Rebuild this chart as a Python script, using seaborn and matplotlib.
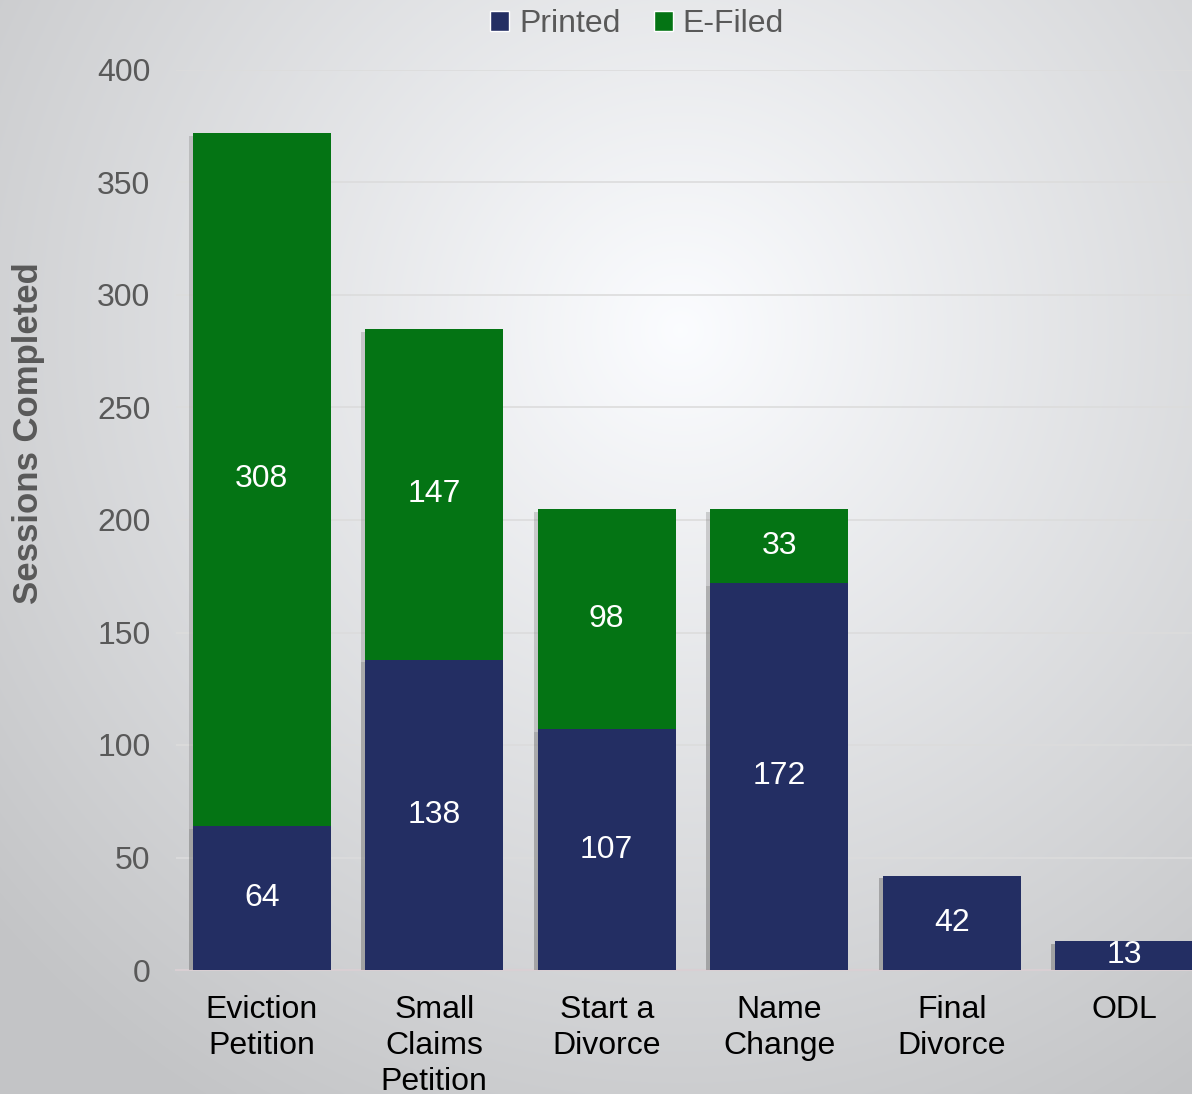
import matplotlib
matplotlib.use("Agg")
import matplotlib.pyplot as plt
import matplotlib.patheffects as pe
from matplotlib.patches import Patch
import numpy as np
import pandas as pd
import seaborn as sns

categories = ["Eviction\nPetition", "Small\nClaims\nPetition", "Start a\nDivorce",
              "Name\nChange", "Final\nDivorce", "ODL"]
printed = [64, 138, 107, 172, 42, 13]
efiled = [308, 147, 98, 33, 0, 0]

NAVY = "#232E63"
GREEN = "#047414"
GREY_TXT = "#595959"

sns.set_theme(style="white")
plt.rcParams["font.family"] = ["Liberation Sans", "DejaVu Sans"]

df = pd.DataFrame({"category": categories, "printed": printed, "efiled": efiled})
df["total"] = df["printed"] + df["efiled"]

fig = plt.figure(figsize=(11.92, 10.94), dpi=100)

# radial grey background
bg = fig.add_axes([0, 0, 1, 1], zorder=-10)
yy, xx = np.mgrid[0:1094, 0:1192]
r = np.sqrt(((xx - 680) / 900.0) ** 2 + ((yy - 330) / 900.0) ** 2)
shade = np.clip(1.0 - 0.22 * r, 0.78, 1.0)
img = np.dstack([shade * 0.985, shade * 0.99, shade * 1.0])
bg.imshow(np.clip(img, 0, 1), aspect="auto", extent=[0, 1, 0, 1])
bg.axis("off")

ax = fig.add_axes([175.5 / 1192, 124 / 1094, 1035 / 1192, 900 / 1094])
ax.patch.set_alpha(0)

shadow = [pe.SimplePatchShadow(offset=(-3, -2), shadow_rgbFace="#777777", alpha=0.3), pe.Normal()]
sns.barplot(data=df, x="category", y="total", color=GREEN, saturation=1, width=0.8,
            ax=ax, zorder=3)
sns.barplot(data=df, x="category", y="printed", color=NAVY, saturation=1, width=0.8,
            ax=ax, zorder=4)
for p in ax.patches:
    p.set_path_effects(shadow)
    p.set_linewidth(0)

for i, (p, e) in enumerate(zip(printed, efiled)):
    ax.text(i, p / 2, str(p), ha="center", va="center", color="white", fontsize=23, zorder=5)
    if e > 0:
        ax.text(i, p + e / 2, str(e), ha="center", va="center", color="white", fontsize=23, zorder=5)

ax.set_ylim(0, 400)
ax.set_xlim(-0.5, 5.5)
ax.set_yticks(range(0, 401, 50))
ax.yaxis.grid(True, color="#dcdcdc", linewidth=1.2, zorder=0)
ax.set_axisbelow(True)
for s in ["top", "right", "left"]:
    ax.spines[s].set_visible(False)
ax.spines["bottom"].set_color("#d9cfd3")
ax.spines["bottom"].set_linewidth(1.5)
ax.tick_params(axis="y", labelsize=23, labelcolor=GREY_TXT, length=0, pad=18)
ax.tick_params(axis="x", labelsize=23, labelcolor="black", length=0, pad=18)
for lab in ax.get_xticklabels():
    lab.set_multialignment("center")
    lab.set_verticalalignment("top")
    lab.set_linespacing(1.27)
ax.set_xlabel("")
ax.set_ylabel("Sessions Completed", fontsize=25, fontweight="bold", color=GREY_TXT)
ax.yaxis.set_label_coords(-0.126, 0.597)

handles = [Patch(facecolor=NAVY, label="Printed"), Patch(facecolor=GREEN, label="E-Filed")]
fig.legend(handles=handles, loc="upper center", bbox_to_anchor=(637 / 1192, 1.018), ncol=2,
           frameon=False, fontsize=23, labelcolor=GREY_TXT, handlelength=0.6,
           handleheight=0.6, handletextpad=0.3, columnspacing=1.05)

fig.savefig("out.png", dpi=100)
